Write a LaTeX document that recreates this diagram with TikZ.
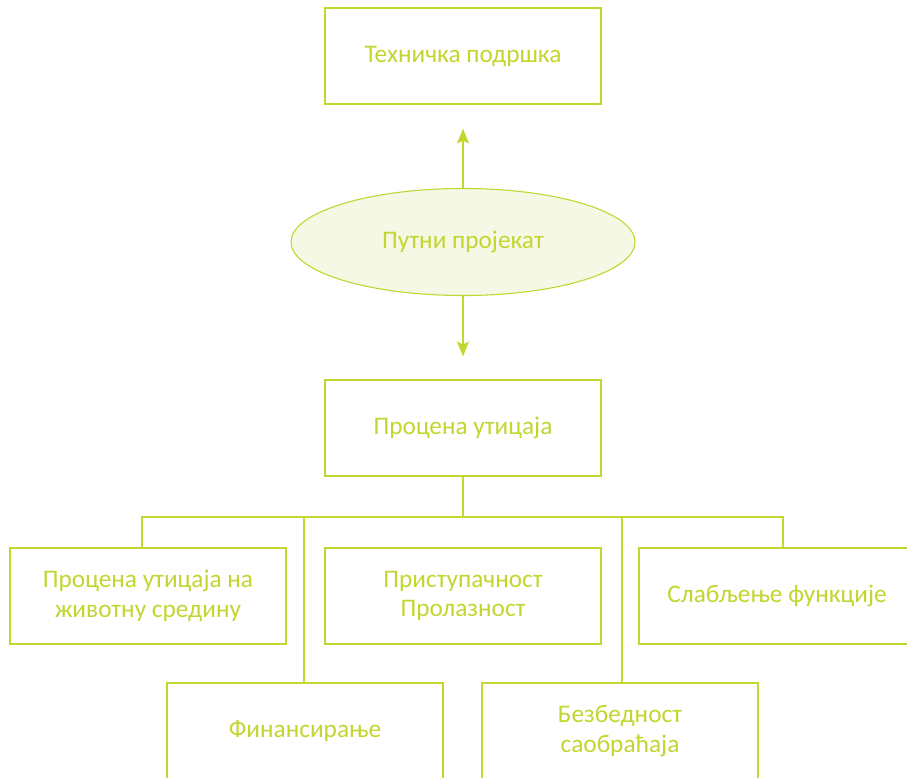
\documentclass[tikz,border=0pt]{standalone}
\usepackage{fontspec}
\setmainfont{Carlito}
\usetikzlibrary{arrows.meta, shapes.geometric}

\definecolor{verde}{RGB}{194,214,47}
\definecolor{verdeclaro}{RGB}{245,248,228}

\begin{document}
\begin{tikzpicture}[
    x=1pt, y=-1pt,
    caja/.style    = {rectangle, draw=verde, fill=white, line width=1.1pt,
                      minimum width=276pt, minimum height=96pt, inner sep=0pt,
                      align=center, text=verde,
                      font=\fontsize{25.3pt}{29.5pt}\selectfont},
    elipse/.style  = {ellipse, draw=verde, fill=verdeclaro, line width=1.1pt,
                      minimum width=344pt, minimum height=107pt, inner sep=0pt,
                      align=center, text=verde,
                      font=\fontsize{25.3pt}{29.5pt}\selectfont},
    flecha/.style  = {-{Stealth[length=15pt,width=12pt,inset=3pt]},
                      draw=verde, line width=1.3pt},
    linea/.style   = {draw=verde, line width=1.3pt},
  ]
  \useasboundingbox (0,0) rectangle (907,778);

  %-------------------------------------------------- arriba
  \node[caja]   (T) at (463,56)  {Техничка подршка};
  \node[elipse] (P) at (463,242) {Путни пројекат};
  \node[caja]   (U) at (463,428) {Процена утицаја};

  %-------------------------------------------------- primera fila
  \node[caja] (Z) at (148,596) {Процена утицаја на\\животну средину};
  \node[caja] (A) at (463,596) {Приступачност\\Пролазност};
  \node[caja] (S) at (777,596) {Слабљење функције};

  %-------------------------------------------------- segunda fila
  \node[caja] (F) at (305,731) {Финансирање};
  \node[caja] (B) at (620,731) {Безбедност\\саобраћаја};

  %-------------------------------------------------- flechas
  \draw[flecha] (P.north) -- ([yshift=-24pt]T.south);
  \draw[flecha] (P.south) -- ([yshift=23pt]U.north);

  %-------------------------------------------------- ramas
  \coordinate (bus) at (463,517);
  \draw[linea] (U.south) -- (bus);
  \draw[linea] ([xshift=-6pt]Z.north) -- ([xshift=-6pt]Z.north |- bus)
               -- ([xshift=6pt]S.north |- bus) -- ([xshift=6pt]S.north);
  \draw[linea] ([xshift=-1pt]F.north) -- ([xshift=-1pt]F.north |- bus);
  \draw[linea] ([xshift=2pt]B.north) -- ([xshift=2pt]B.north |- bus);
\end{tikzpicture}
\end{document}
